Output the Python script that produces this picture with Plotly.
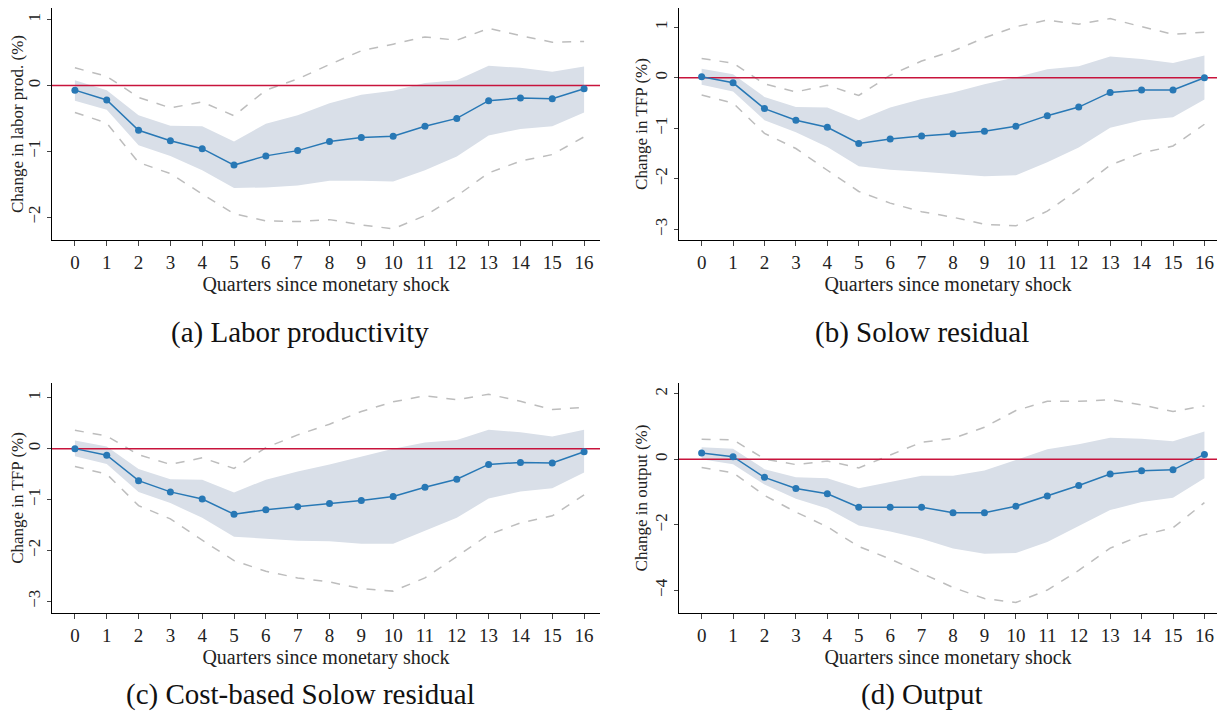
import plotly.graph_objects as go

quarters = list(range(17))

# (a) Labor productivity
lp_est = [-0.07, -0.22, -0.68, -0.84, -0.96, -1.21, -1.07, -0.99, -0.85, -0.79, -0.77, -0.62, -0.50, -0.23, -0.19, -0.20, -0.05]
lp_band_hi = [0.08, -0.07, -0.45, -0.61, -0.62, -0.85, -0.58, -0.45, -0.27, -0.14, -0.08, 0.04, 0.08, 0.30, 0.27, 0.21, 0.29]
lp_band_lo = [-0.23, -0.37, -0.91, -1.07, -1.29, -1.56, -1.55, -1.52, -1.45, -1.45, -1.46, -1.29, -1.08, -0.76, -0.66, -0.62, -0.41]
lp_ci_hi = [0.27, 0.14, -0.18, -0.34, -0.25, -0.46, -0.07, 0.10, 0.32, 0.53, 0.63, 0.74, 0.69, 0.87, 0.76, 0.66, 0.67]
lp_ci_lo = [-0.41, -0.57, -1.17, -1.34, -1.65, -1.95, -2.06, -2.07, -2.04, -2.12, -2.18, -1.98, -1.68, -1.33, -1.15, -1.05, -0.78]

# (b) Solow residual
sr_est = [0.02, -0.10, -0.61, -0.84, -0.98, -1.30, -1.21, -1.15, -1.11, -1.06, -0.96, -0.75, -0.58, -0.29, -0.24, -0.24, 0.0]
sr_band_hi = [0.18, 0.07, -0.38, -0.58, -0.59, -0.84, -0.59, -0.42, -0.29, -0.13, 0.01, 0.17, 0.23, 0.42, 0.37, 0.29, 0.44]
sr_band_lo = [-0.14, -0.27, -0.84, -1.08, -1.37, -1.75, -1.82, -1.86, -1.90, -1.95, -1.93, -1.67, -1.38, -0.99, -0.84, -0.78, -0.43]
sr_ci_hi = [0.38, 0.29, -0.12, -0.28, -0.15, -0.35, 0.05, 0.33, 0.53, 0.79, 1.01, 1.14, 1.06, 1.17, 1.01, 0.86, 0.90]
sr_ci_lo = [-0.34, -0.50, -1.10, -1.40, -1.83, -2.25, -2.48, -2.65, -2.76, -2.90, -2.93, -2.64, -2.21, -1.73, -1.49, -1.35, -0.92]

# (c) Cost-based Solow residual
cb_est = [0.0, -0.13, -0.63, -0.85, -0.99, -1.29, -1.20, -1.14, -1.08, -1.02, -0.94, -0.76, -0.60, -0.31, -0.27, -0.28, -0.06]
cb_band_hi = [0.16, 0.04, -0.40, -0.60, -0.61, -0.86, -0.61, -0.45, -0.31, -0.15, 0.0, 0.12, 0.17, 0.37, 0.32, 0.24, 0.37]
cb_band_lo = [-0.15, -0.30, -0.85, -1.07, -1.36, -1.73, -1.77, -1.81, -1.82, -1.87, -1.87, -1.62, -1.36, -0.98, -0.84, -0.78, -0.47]
cb_ci_hi = [0.36, 0.25, -0.12, -0.31, -0.18, -0.39, 0.02, 0.27, 0.48, 0.73, 0.92, 1.04, 0.96, 1.07, 0.93, 0.77, 0.81]
cb_ci_lo = [-0.35, -0.50, -1.12, -1.38, -1.80, -2.20, -2.41, -2.54, -2.62, -2.75, -2.80, -2.54, -2.12, -1.69, -1.46, -1.32, -0.91]

# (d) Output
out_est = [0.19, 0.08, -0.55, -0.89, -1.05, -1.46, -1.46, -1.46, -1.63, -1.63, -1.43, -1.12, -0.80, -0.45, -0.35, -0.32, 0.15]
out_band_hi = [0.37, 0.32, -0.30, -0.55, -0.58, -0.88, -0.69, -0.50, -0.50, -0.34, -0.02, 0.31, 0.46, 0.66, 0.63, 0.55, 0.85]
out_band_lo = [0.0, -0.15, -0.77, -1.20, -1.50, -2.02, -2.20, -2.42, -2.72, -2.88, -2.86, -2.52, -2.03, -1.55, -1.30, -1.17, -0.58]
out_ci_hi = [0.61, 0.60, 0.01, -0.16, -0.05, -0.26, 0.13, 0.52, 0.64, 0.98, 1.49, 1.77, 1.77, 1.82, 1.66, 1.46, 1.63]
out_ci_lo = [-0.25, -0.41, -1.10, -1.61, -2.06, -2.66, -3.04, -3.47, -3.91, -4.25, -4.37, -3.99, -3.39, -2.71, -2.32, -2.09, -1.32]

panels = [
    ("(a) Labor productivity", "Change in labor prod. (%)", lp_est, lp_band_hi, lp_band_lo, lp_ci_hi, lp_ci_lo, [-2.35, 1.18], [-2, -1, 0, 1]),
    ("(b) Solow residual", "Change in TFP (%)", sr_est, sr_band_hi, sr_band_lo, sr_ci_hi, sr_ci_lo, [-3.21, 1.38], [-3, -2, -1, 0, 1]),
    ("(c) Cost-based Solow residual", "Change in TFP (%)", cb_est, cb_band_hi, cb_band_lo, cb_ci_hi, cb_ci_lo, [-3.23, 1.29], [-3, -2, -1, 0, 1]),
    ("(d) Output", "Change in output (%)", out_est, out_band_hi, out_band_lo, out_ci_hi, out_ci_lo, [-4.69, 2.33], [-4, -2, 0, 2]),
]

# page has an 8px body margin, so the figure is 16px smaller and shifted
OFF = 8
W, H = 1225 - 2 * OFF, 722 - 2 * OFF


def px_x(v):
    return min(max((v - OFF) / W, 0), 1)


def px_y(v):
    return min(max((H - (v - OFF)) / H, 0), 1)


xdoms = [[px_x(52), px_x(600)], [px_x(679), px_x(1217)]]
ydoms = [[px_y(240), px_y(8)], [px_y(613), px_y(383)]]
caption_y = [px_y(332), px_y(694)]
caption_x = [px_x(300), px_x(922)]

FONT = "Palatino Linotype, Book Antiqua, Liberation Serif, serif"

fig = go.Figure()
layout = {}
annotations = []
for i, (cap, ytitle, est, bhi, blo, chi, clo, yr, yt) in enumerate(panels):
    row, col = i // 2, i % 2
    n = "" if i == 0 else str(i + 1)
    xa, ya = "x" + n, "y" + n
    fig.add_trace(go.Scatter(x=quarters + quarters[::-1], y=bhi + blo[::-1], fill="toself",
                             fillcolor="#d9dfe8", line=dict(width=0), mode="lines",
                             hoverinfo="skip", showlegend=False, xaxis=xa, yaxis=ya))
    fig.add_trace(go.Scatter(x=quarters, y=chi, mode="lines", line=dict(color="#bdbdbd", width=1.5, dash="dash"),
                             showlegend=False, xaxis=xa, yaxis=ya))
    fig.add_trace(go.Scatter(x=quarters, y=clo, mode="lines", line=dict(color="#bdbdbd", width=1.5, dash="dash"),
                             showlegend=False, xaxis=xa, yaxis=ya))
    fig.add_trace(go.Scatter(x=[-0.75, 16.6], y=[0, 0], mode="lines", line=dict(color="#c8143c", width=1.5),
                             showlegend=False, xaxis=xa, yaxis=ya))
    fig.add_trace(go.Scatter(x=quarters, y=est, mode="lines+markers", line=dict(color="#2878b5", width=1.5),
                             marker=dict(size=7, color="#2878b5"), showlegend=False, xaxis=xa, yaxis=ya))
    xr = [-0.72, 16.5] if col == 0 else [-0.72, 16.4]
    layout["xaxis" + n] = dict(domain=xdoms[col], anchor=ya, range=xr, tickvals=quarters,
                               showgrid=False, zeroline=False, showline=True, linecolor="black", linewidth=1,
                               ticks="outside", ticklen=5, tickfont=dict(size=19, color="#222"),
                               title=dict(text="Quarters since monetary shock", font=dict(size=20, color="#222"), standoff=0))
    layout["yaxis" + n] = dict(domain=ydoms[row], anchor=xa, range=yr, tickvals=yt, tickangle=-90,
                               showgrid=False, zeroline=False, showline=True, linecolor="black", linewidth=1,
                               ticks="outside", ticklen=4, tickfont=dict(size=17, color="#222"),
                               title=dict(text=ytitle, font=dict(size=17, color="#222"), standoff=0))
    annotations.append(dict(text=cap, x=caption_x[col], y=caption_y[row], xref="paper", yref="paper",
                            xanchor="center", yanchor="middle",
                            showarrow=False, font=dict(size=29, color="#111")))

fig.update_layout(**layout)
fig.update_layout(width=W, height=H, margin=dict(l=0, r=0, t=0, b=0), plot_bgcolor="white",
                  paper_bgcolor="white", font=dict(family=FONT), annotations=annotations)
fig.write_html("out.html")
